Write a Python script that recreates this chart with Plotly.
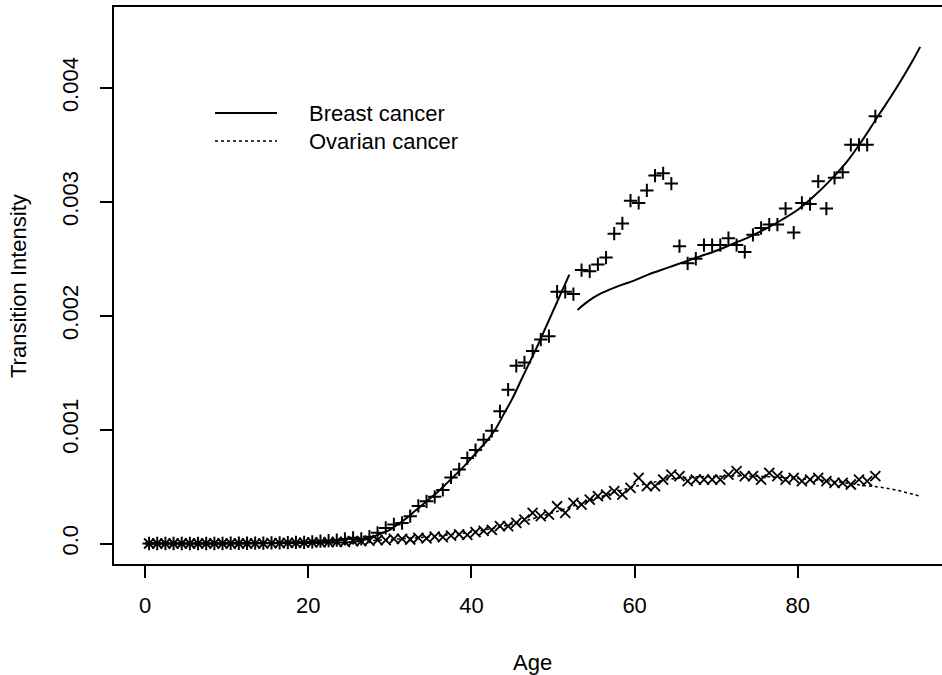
import plotly.graph_objects as go

# ---- data ----
ages = [k + 0.5 for k in range(90)]

breast_pts = [
    0, 0, 0, 0, 0, 0, 0, 0, 0, 0,
    0.000002, 0.000002, 0.000002, 0.000003, 0.000004, 0.000005, 0.000006, 0.000008, 0.00001, 0.00001,
    0.000015, 0.00002, 0.000025, 0.00003, 0.00004, 0.00005, 0.00004, 0.00006, 0.000094, 0.000137,
    0.000167, 0.00018, 0.00024, 0.00033, 0.00037, 0.00041, 0.00047, 0.00058, 0.00065, 0.00075,
    0.00082, 0.00091, 0.00099, 0.00116, 0.00135, 0.00156, 0.00159, 0.00169, 0.00179, 0.00182,
    0.00221, 0.00221, 0.00219, 0.0024, 0.00239, 0.00245, 0.00251, 0.00272, 0.00281, 0.00301,
    0.00299, 0.0031, 0.00323, 0.00325, 0.00316, 0.00261, 0.00246, 0.0025, 0.00262, 0.00262,
    0.00262, 0.00268, 0.00262, 0.00256, 0.00271, 0.00277, 0.0028, 0.0028, 0.00294, 0.00273,
    0.00299, 0.00298, 0.00318, 0.00294, 0.00321, 0.00326, 0.0035, 0.0035, 0.0035, 0.00375,
]

ovarian_pts = [
    0, 0, 0, 0, 0, 0, 0, 0, 0, 0,
    0, 0, 0, 0, 0, 0.000003, 0.000004, 0.000005, 0.000006, 0.000008,
    0.00001, 0.00001, 0.000012, 0.000015, 0.000015, 0.00002, 0.00002, 0.000025, 0.00003, 0.00003,
    0.00004, 0.00004, 0.000035, 0.00005, 0.000045, 0.00006, 0.000055, 0.00007, 0.00008, 0.000075,
    0.0001, 0.00011, 0.00012, 0.000152, 0.000152, 0.000181, 0.00021, 0.000269, 0.00024, 0.000254,
    0.000327, 0.000269, 0.000357, 0.000342, 0.000386, 0.000415, 0.00043, 0.000459, 0.00043, 0.000488,
    0.000576, 0.000503, 0.000503, 0.000561, 0.000605, 0.000591, 0.000547, 0.000561, 0.000561, 0.000561,
    0.000561, 0.000605, 0.000635, 0.000591, 0.000591, 0.000561, 0.00062, 0.000591, 0.000561, 0.000576,
    0.000547, 0.000561, 0.000576, 0.000547, 0.000532, 0.000532, 0.000518, 0.000561, 0.000547, 0.000591,
]

breast_fit1_age = [0, 5, 10, 15, 20, 22, 24, 25, 26, 27, 28, 29, 30, 31, 32, 33, 34, 35, 36, 37,
                   38, 39, 40, 41, 42, 43, 44, 45, 46, 47, 48, 49, 50, 51, 52]
breast_fit1_val = [0, 0, 0, 0.000002, 0.000004, 0.000006, 0.000009, 0.000012, 0.00002, 0.000035,
                   0.00006, 0.00009, 0.00012, 0.00017, 0.00022, 0.00028, 0.00034, 0.0004, 0.00046, 0.00053,
                   0.0006, 0.00067, 0.00075, 0.00083, 0.00091, 0.00101, 0.00114, 0.00127, 0.00142, 0.00157,
                   0.00172, 0.00188, 0.00204, 0.0022, 0.00236]

breast_fit2_age = [53, 54, 55, 56, 58, 60, 62, 64, 66, 68, 70, 72, 74, 76, 78, 80, 82, 84, 86, 88,
                   90, 92, 94, 95]
breast_fit2_val = [0.00205, 0.00211, 0.00216, 0.0022, 0.00226, 0.00231, 0.00237, 0.00242, 0.00247, 0.00252,
                   0.00257, 0.00263, 0.00269, 0.00276, 0.00284, 0.00293, 0.00305, 0.00319, 0.00335, 0.00355,
                   0.00377, 0.00399, 0.00423, 0.00436]

ovarian_fit_age = [0, 10, 15, 20, 25, 30, 35, 40, 45, 50, 55, 60, 65, 70, 75, 80, 85, 88, 90, 92, 95]
ovarian_fit_val = [0, 0, 0.000002, 0.000006, 0.000015, 0.000035, 0.00006, 0.0001, 0.00017, 0.00027,
                   0.00039, 0.0005, 0.00057, 0.00059, 0.00059, 0.00057, 0.00054, 0.00051, 0.000495,
                   0.00047, 0.000415]

x_ticks = [0, 20, 40, 60, 80]
y_ticks = [0, 0.001, 0.002, 0.003, 0.004]
y_ticktext = ["0.0", "0.001", "0.002", "0.003", "0.004"]

FONT = "Liberation Sans, Arial, sans-serif"
FS = 22

fig = go.Figure()

fig.add_trace(go.Scatter(
    x=ovarian_fit_age, y=ovarian_fit_val, mode="lines", line_shape="spline",
    line=dict(color="black", width=1.5, dash="3px,3px"), showlegend=False, hoverinfo="skip"))
fig.add_trace(go.Scatter(
    x=breast_fit1_age, y=breast_fit1_val, mode="lines", line_shape="spline",
    line=dict(color="black", width=2), showlegend=False, hoverinfo="skip"))
fig.add_trace(go.Scatter(
    x=breast_fit2_age, y=breast_fit2_val, mode="lines", line_shape="spline",
    line=dict(color="black", width=2), showlegend=False, hoverinfo="skip"))
fig.add_trace(go.Scatter(
    x=ages, y=ovarian_pts, mode="markers",
    marker=dict(symbol="x-thin", size=10, line=dict(color="black", width=1.8), color="black"),
    showlegend=False))
fig.add_trace(go.Scatter(
    x=ages, y=breast_pts, mode="markers",
    marker=dict(symbol="cross-thin", size=9.5, line=dict(color="black", width=2), color="black"),
    showlegend=False))

L, T, B = 114, 7, 111
W, H = 942, 675
pw = W - L
ph = H - T - B

def px(xpix):
    return (xpix - L) / pw

def py(ypix):
    return 1 - (ypix - T) / ph

# legend (manual, as in the original R plot)
fig.add_shape(type="line", xref="paper", yref="paper", x0=px(215), x1=px(277), y0=py(113), y1=py(113),
              line=dict(color="black", width=2))
fig.add_shape(type="line", xref="paper", yref="paper", x0=px(215), x1=px(277), y0=py(141), y1=py(141),
              line=dict(color="black", width=1.5, dash="3px,3px"))
fig.add_annotation(text="Breast cancer", xref="paper", yref="paper", x=px(307), y=py(113),
                   xanchor="left", yanchor="middle", showarrow=False, font=dict(family=FONT, size=FS, color="black"))
fig.add_annotation(text="Ovarian cancer", xref="paper", yref="paper", x=px(307), y=py(141),
                   xanchor="left", yanchor="middle", showarrow=False, font=dict(family=FONT, size=FS, color="black"))

# axis titles
fig.add_annotation(text="Age", xref="paper", yref="paper", x=px(532), y=py(662),
                   xanchor="center", yanchor="middle", showarrow=False, font=dict(family=FONT, size=FS, color="black"))
fig.add_annotation(text="Transition Intensity", xref="paper", yref="paper", x=px(18), y=py(286),
                   xanchor="center", yanchor="middle", textangle=-90, showarrow=False,
                   font=dict(family=FONT, size=FS, color="black"))

fig.update_layout(
    width=W, height=H,
    margin=dict(l=L, r=0, t=T, b=B),
    paper_bgcolor="white", plot_bgcolor="white",
    font=dict(family=FONT, size=FS, color="black"),
    showlegend=False,
)
fig.update_xaxes(
    range=[-3.8, -3.8 + pw / 8.16], tickvals=x_ticks, ticks="outside", ticklen=12, tickwidth=1.5,
    tickcolor="black", showline=True, linecolor="black", linewidth=2, mirror=True,
    showgrid=False, zeroline=False, ticklabelstandoff=9,
    tickfont=dict(family=FONT, size=FS, color="black"))
fig.update_yaxes(
    range=[-0.00018, 0.00471], tickvals=y_ticks, ticktext=y_ticktext, ticks="outside", ticklen=12,
    tickwidth=1.5, tickcolor="black", showline=True, linecolor="black", linewidth=2, mirror=False,
    showgrid=False, zeroline=False, tickangle=-90, ticklabelstandoff=13,
    tickfont=dict(family=FONT, size=FS, color="black"))

fig.write_html("out.html")
